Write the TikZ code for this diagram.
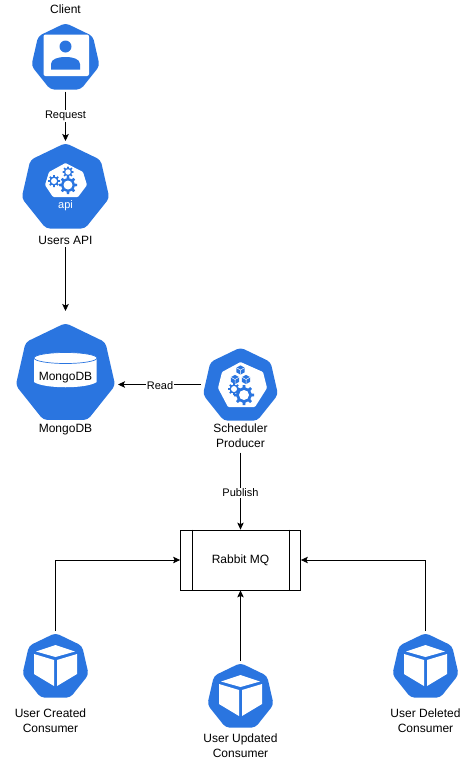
\documentclass[tikz,border=0pt]{standalone}
\usepackage{fontspec}
\setmainfont{Liberation Sans}
\usetikzlibrary{shapes.geometric,arrows.meta}
\definecolor{kblue}{HTML}{2A75E0}
\tikzset{x=1pt,y=-1pt,
  kube/.style={regular polygon,regular polygon sides=7,fill=kblue,draw=none,rounded corners=4pt,inner sep=0pt,outer sep=0pt,minimum size=#1},
  lab/.style={font=\fontsize{12}{15}\selectfont,align=center,inner sep=0pt,text=black},
  elab/.style={font=\fontsize{11}{13}\selectfont,fill=white,inner sep=1pt,text=black},
  conn/.style={draw=black,line width=0.8pt,-{Stealth[length=7pt,width=6.5pt,inset=1.5pt]}},
  queue/.style={draw=black,line width=0.8pt,fill=white,minimum width=120pt,minimum height=60pt,inner sep=0pt,font=\fontsize{12}{15}\selectfont}}
\newcommand{\gearicon}[3]{% x y r
  \foreach \a in {0,45,...,315}{\fill[kblue,rotate around={\a:(#1,#2)}] (#1-0.17*#3,#2-0.6*#3) -- (#1-0.13*#3,#2-1.0*#3) -- (#1+0.13*#3,#2-1.0*#3) -- (#1+0.17*#3,#2-0.6*#3) -- cycle;}
  \fill[kblue] (#1,#2) circle[radius=0.76*#3];
  \fill[white] (#1,#2) circle[radius=0.5*#3];}
\newcommand{\cubeicon}[3]{% x y scale : small blue cube
  \begin{scope}[shift={(#1,#2)},scale=#3]
    \fill[kblue] (0,-1) -- (0.9,-0.5) -- (0.9,0.5) -- (0,1) -- (-0.9,0.5) -- (-0.9,-0.5) -- cycle;
    \draw[white,line width=0.5pt] (-0.9,-0.5) -- (0,0) -- (0.9,-0.5) (0,0) -- (0,1);
  \end{scope}}
\newcommand{\bigcube}[2]{%
  \begin{scope}[shift={(#1,#2)}]
    \fill[white] (0,-22) -- (19.5,-15.5) -- (0,-10) -- (-19.5,-15.5) -- cycle;
    \fill[white] (-21.5,-13) -- (-1.5,-7) -- (-1.5,19) -- (-21.5,7) -- cycle;
    \fill[white] (21.5,-13) -- (1.5,-7) -- (1.5,19) -- (21.5,7) -- cycle;
  \end{scope}}
\begin{document}
\begin{tikzpicture}
\useasboundingbox (0,0) rectangle (471,761);
\fill[white] (0,0) rectangle (471,761);
% nodes
\node[kube=70pt] (client) at (65.5,58) {};
\node[kube=90pt] (api) at (65.5,188) {};
\node[kube=102pt] (mongo) at (65.5,374) {};
\node[kube=77pt] (sched) at (240.5,386) {};
\node[kube=68pt] (created) at (55.5,667) {};
\node[kube=68pt] (updated) at (240.5,697) {};
\node[kube=68pt] (deleted) at (425.5,667) {};
% labels
\node[lab] (clientl) at (65.5,9) {Client};
\node[lab] (apil) at (65.5,240) {Users API};
\node[lab] (mongol) at (65.5,430) {MongoDB};
\node[lab] (schedl) at (240.5,435.5) {Scheduler\\Producer};
\node[lab] (createdl) at (50.5,720.5) {User Created\\Consumer};
\node[lab] (updatedl) at (240.5,745.5) {User Updated\\Consumer};
\node[lab] (deletedl) at (425.5,720.5) {User Deleted\\Consumer};
\node[queue] (rq) at (240.5,560) {Rabbit MQ};
\draw[line width=0.8pt] ([xshift=12pt]rq.north west) -- ([xshift=12pt]rq.south west);
\draw[line width=0.8pt] ([xshift=-12pt]rq.north east) -- ([xshift=-12pt]rq.south east);
% client icon
\fill[white,rounded corners=2pt] (43.5,34.5) rectangle (89,76);
\fill[kblue] (65.5,46.5) circle[radius=6];
\fill[kblue] (51,69.5) -- (51,64) .. controls (51,59) and (58,57) .. (65.5,57) .. controls (73,57) and (80,59) .. (80,64) -- (80,69.5) -- cycle;
% api icon
\fill[white,rounded corners=1pt] (65.5,163) -- (83,172) -- (87,185) -- (78,197) -- (53,197) -- (45,185) -- (49,172) -- cycle;
\gearicon{68}{185}{9}
\gearicon{54}{181}{6}
\gearicon{68}{172}{5.5}
\node[font=\fontsize{11}{13}\selectfont,text=white,inner sep=0pt] (apit) at (65.5,206) {api};
% mongo icon
\fill[white] (34,358) -- (34,382) .. controls (44,389) and (87,389) .. (96.7,382) -- (96.7,358) -- cycle;
\fill[white,draw=kblue,line width=0.7pt] (65.5,358) ellipse[x radius=31.5,y radius=5.5];
\node[font=\fontsize{12}{15}\selectfont,inner sep=0pt] (mongot) at (65.5,377.5) {MongoDB};
% scheduler icon
\fill[white,rounded corners=1pt] (240.5,362) -- (263,372) -- (267,388) -- (255,407) -- (228,407) -- (218,388) -- (222,372) -- cycle;
\cubeicon{240.5}{370}{4.6}
\cubeicon{235}{379.5}{4.6}
\cubeicon{246}{379.5}{4.6}
\gearicon{244}{395}{10}
\gearicon{234}{389}{6}
% consumers
\bigcube{55.5}{667}
\bigcube{240.5}{697}
\bigcube{425.5}{667}
% connectors
\coordinate (readfrom) at (201,384.5);
\coordinate (readto) at (118,384.5);
\draw[conn,shorten <=2pt,shorten >=2pt] (client) -- (api);
\node[elab] (reqlab) at (65.5,116) {Request};
\draw[conn,shorten <=3pt,shorten >=12pt] (apil.south) -- (mongo.north);
\draw[conn] (readfrom) -- (readto);
\node[elab] (readlab) at (160,385.5) {Read};
\draw[conn,shorten <=5pt] (schedl.south) -- (rq.north);
\node[elab] (publab) at (240.5,493) {Publish};
\draw[conn,shorten <=2pt] (created.north) |- (rq.west);
\draw[conn,shorten <=2pt] (deleted.north) |- (rq.east);
\draw[conn,shorten <=2pt] (updated.north) -- (rq.south);
\end{tikzpicture}
\end{document}
